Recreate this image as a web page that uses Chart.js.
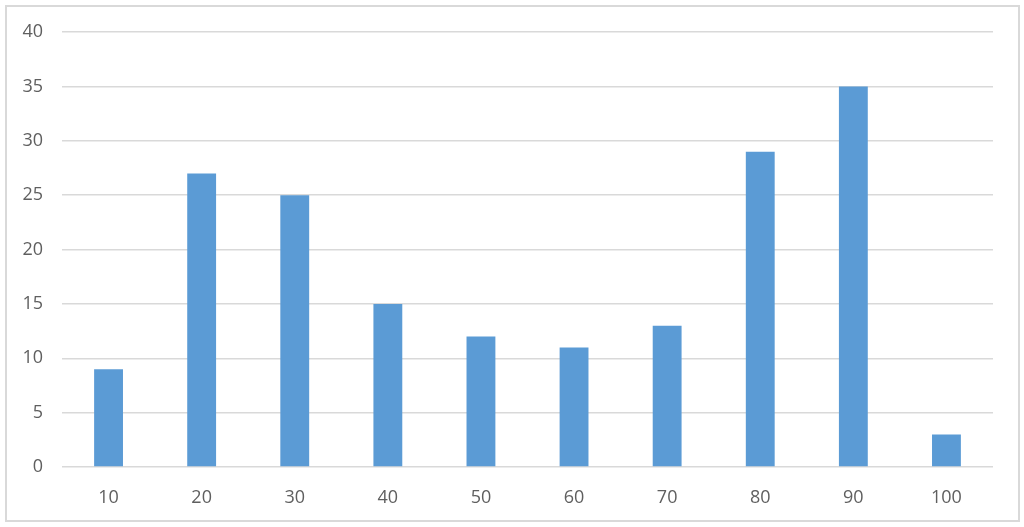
<!DOCTYPE html>
<html>
<head>
<meta charset="utf-8">
<script src="https://cdn.jsdelivr.net/npm/chart.js@4/dist/chart.umd.min.js"></script>
<style>
    html, body { margin: 0; padding: 0; background: #fff; }
    #wrap { position: relative; width: 1024px; height: 527px; }
    #frame {
        position: absolute; left: 5px; top: 5px; width: 1011px; height: 513px;
        border: 2px solid #d9d9d9; pointer-events: none;
    }
    canvas { position: absolute; left: 0; top: 0; }
</style>
</head>
<body>
<div id="wrap">
    <canvas id="chart" width="1024" height="527"></canvas>
    <div id="frame"></div>
</div>
<script>
// Chart data
const categories = ['10', '20', '30', '40', '50', '60', '70', '80', '90', '100'];
const counts = [9, 27, 25, 15, 12, 11, 13, 29, 35, 3];
const yTicks = [0, 5, 10, 15, 20, 25, 30, 35, 40];

const tickFont = { family: 'Open Sans', size: 18 };

const ctx = document.getElementById('chart').getContext('2d');
new Chart(ctx, {
    type: 'bar',
    data: {
        labels: categories,
        datasets: [{
            data: counts,
            backgroundColor: '#5b9bd5',
            borderWidth: 0,
            categoryPercentage: 1,
            barPercentage: 0.31
        }]
    },
    options: {
        responsive: false,
        animation: false,
        layout: { padding: { top: 32, right: 31, left: 0, bottom: 0 } },
        plugins: { legend: { display: false }, tooltip: { enabled: false } },
        scales: {
            x: {
                grid: { display: false },
                border: { display: false },
                ticks: { color: '#5f5f5f', font: tickFont, padding: 12 },
                afterFit: (scale) => { scale.height = 60; }
            },
            y: {
                min: yTicks[0],
                max: yTicks[yTicks.length - 1],
                grid: { color: '#d9d9d9', lineWidth: 1.5, drawTicks: false },
                border: { display: false },
                ticks: { stepSize: 5, color: '#5f5f5f', font: tickFont, padding: 19 },
                afterFit: (scale) => { scale.width = 62; }
            }
        }
    }
});
</script>
</body>
</html>
